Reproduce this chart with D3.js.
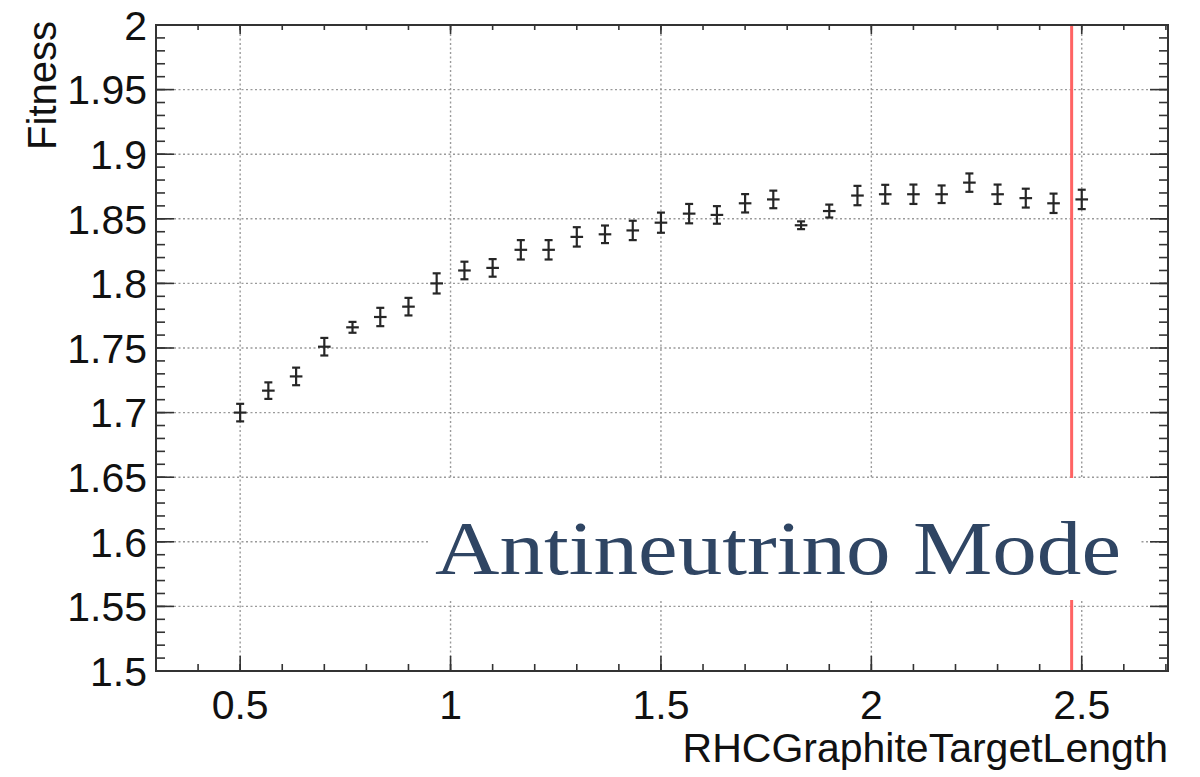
<!DOCTYPE html>
<html>
<head>
<meta charset="utf-8">
<script src="https://cdn.jsdelivr.net/npm/d3@7"></script>
<style>
  body { margin: 0; background: #fff; }
  svg { display: block; font-family: "Liberation Sans", Arial, sans-serif; }
</style>
</head>
<body>
<svg id="chart" width="1200" height="777"></svg>
<script>
// data
var targetLength = [0.5, 0.567, 0.633, 0.7, 0.767, 0.833, 0.9, 0.967, 1.033, 1.1,
  1.167, 1.233, 1.3, 1.367, 1.433, 1.5, 1.567, 1.633, 1.7, 1.767,
  1.833, 1.9, 1.967, 2.033, 2.1, 2.167, 2.233, 2.3, 2.367, 2.433, 2.5];
var fitness = [1.700, 1.717, 1.728, 1.751, 1.766, 1.774, 1.782, 1.800, 1.810, 1.812,
  1.826, 1.826, 1.836, 1.838, 1.841, 1.847, 1.854, 1.853, 1.862, 1.865,
  1.845, 1.856, 1.868, 1.869, 1.869, 1.869, 1.878, 1.869, 1.866, 1.862, 1.865];
var fitnessErr = [0.0068, 0.0064, 0.0068, 0.0068, 0.0042, 0.0071, 0.0068, 0.0078, 0.0068, 0.0068,
  0.0075, 0.0075, 0.0075, 0.0068, 0.0075, 0.0078, 0.0075, 0.0068, 0.0071, 0.0068,
  0.0030, 0.0050, 0.0075, 0.0073, 0.0075, 0.0068, 0.0071, 0.0075, 0.0073, 0.0075, 0.0075];
var xErr = 0.015;
var nominal = 2.476;
var xTicks = [0.5, 1, 1.5, 2, 2.5];
var yTicks = [1.5, 1.55, 1.6, 1.65, 1.7, 1.75, 1.8, 1.85, 1.9, 1.95, 2];
var modeLabel = "Antineutrino Mode";

var margin = { top: 25, right: 32, bottom: 106, left: 156 },
  width = 1200 - margin.left - margin.right,
  height = 777 - margin.top - margin.bottom;

var svg = d3.select("#chart");
var g = svg.append("g")
  .attr("transform", "translate(" + margin.left + "," + margin.top + ")");

var x = d3.scaleLinear().domain([0.3, 2.705]).range([0, width]);
var y = d3.scaleLinear().domain([1.5, 2]).range([height, 0]);

// dotted grid
g.append("g").selectAll("line").data(xTicks).join("line")
  .attr("x1", d => x(d)).attr("x2", d => x(d))
  .attr("y1", 0).attr("y2", height)
  .attr("stroke", "#9a9a9a").attr("stroke-width", 1.4)
  .attr("stroke-dasharray", "2,2.5");
g.append("g").selectAll("line").data(yTicks.slice(1, -1)).join("line")
  .attr("x1", 0).attr("x2", width)
  .attr("y1", d => y(d)).attr("y2", d => y(d))
  .attr("stroke", "#9a9a9a").attr("stroke-width", 1.4)
  .attr("stroke-dasharray", "2,2.5");

// red nominal line
g.append("line")
  .attr("x1", x(nominal)).attr("x2", x(nominal))
  .attr("y1", 0).attr("y2", height)
  .attr("stroke", "#ff6363").attr("stroke-width", 3);

// points with error bars
var pts = g.append("g").selectAll("g").data(fitness).join("g")
  .attr("stroke", "#262626").attr("stroke-width", 2.2);
pts.append("line")
  .attr("x1", (d, i) => x(targetLength[i])).attr("x2", (d, i) => x(targetLength[i]))
  .attr("y1", (d, i) => y(d - fitnessErr[i])).attr("y2", (d, i) => y(d + fitnessErr[i]));
pts.append("line")
  .attr("x1", (d, i) => x(targetLength[i] - xErr)).attr("x2", (d, i) => x(targetLength[i] + xErr))
  .attr("y1", d => y(d)).attr("y2", d => y(d));
// caps
[1, -1].forEach(function (s) {
  pts.append("line")
    .attr("x1", (d, i) => x(targetLength[i]) - 4).attr("x2", (d, i) => x(targetLength[i]) + 4)
    .attr("y1", (d, i) => y(d + s * fitnessErr[i])).attr("y2", (d, i) => y(d + s * fitnessErr[i]));
});

// white box behind the label
g.append("rect")
  .attr("x", 272).attr("y", 453)
  .attr("width", 712).attr("height", 122)
  .attr("fill", "#fff");
g.append("text")
  .attr("x", 279).attr("y", 549)
  .attr("font-family", "'Liberation Serif', 'DejaVu Serif', serif")
  .attr("font-size", 76)
  .attr("fill", "#2f4563")
  .attr("textLength", 686).attr("lengthAdjust", "spacingAndGlyphs")
  .text(modeLabel);

// axes: ticks drawn inward, ROOT style
var xMinor = d3.range(0.3, 2.71, 0.1);
var yMinor = d3.range(1.5, 2.001, 0.01);

function axisLines(sel, scale, vals, len, orient) {
  sel.selectAll(null).data(vals).join("line")
    .attr("stroke", "#333").attr("stroke-width", 1.6)
    .each(function (d) {
      var l = d3.select(this), p = scale(d);
      if (orient === "bottom") l.attr("x1", p).attr("x2", p).attr("y1", height).attr("y2", height - len);
      if (orient === "top") l.attr("x1", p).attr("x2", p).attr("y1", 0).attr("y2", len);
      if (orient === "left") l.attr("x1", 0).attr("x2", len).attr("y1", p).attr("y2", p);
      if (orient === "right") l.attr("x1", width).attr("x2", width - len).attr("y1", p).attr("y2", p);
    });
}
var ticks = g.append("g");
axisLines(ticks, x, xMinor, 7, "bottom");
axisLines(ticks, x, xTicks, 15, "bottom");
axisLines(ticks, x, xMinor, 5, "top");
axisLines(ticks, x, xTicks, 9, "top");
axisLines(ticks, y, yMinor, 9, "left");
axisLines(ticks, y, yTicks, 18, "left");
axisLines(ticks, y, yMinor, 9, "right");
axisLines(ticks, y, yTicks, 18, "right");

g.append("rect")
  .attr("width", width).attr("height", height)
  .attr("fill", "none").attr("stroke", "#333").attr("stroke-width", 2);

// tick labels
g.append("g").selectAll("text").data(xTicks).join("text")
  .attr("x", d => x(d)).attr("y", height + 48)
  .attr("text-anchor", "middle").attr("font-size", 41).attr("fill", "#111")
  .text(d => d);
g.append("g").selectAll("text").data(yTicks).join("text")
  .attr("x", -9).attr("y", d => y(d)).attr("dy", "0.36em")
  .attr("text-anchor", "end").attr("font-size", 41).attr("fill", "#111")
  .text(d => d);

// axis titles
g.append("text")
  .attr("x", width).attr("y", height + 91)
  .attr("text-anchor", "end").attr("font-size", 41).attr("fill", "#111")
  .text("RHCGraphiteTargetLength");
g.append("text")
  .attr("transform", "translate(-100,-4) rotate(-90)")
  .attr("text-anchor", "end").attr("font-size", 40).attr("fill", "#111")
  .text("Fitness");
</script>
</body>
</html>
